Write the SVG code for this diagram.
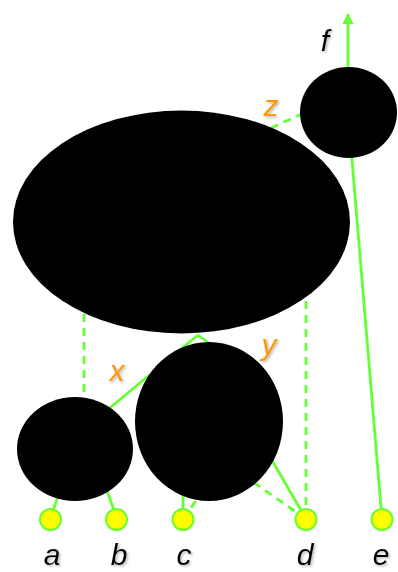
<svg xmlns="http://www.w3.org/2000/svg" width="398" height="572" viewBox="0 0 398 572">
<style>
.e{stroke:#66ff33;stroke-width:2.8;fill:none}
.d{stroke-dasharray:8 6}
.n{fill:#000}
.leaf{fill:#ffff00;stroke:#66ff33;stroke-width:2}
.t{font-family:"Liberation Sans",Arial,sans-serif;font-style:italic;font-size:30px;text-anchor:middle;filter:url(#sh)}
.lbl{fill:#000}
.o{fill:#ff9900}
</style>
<defs>
<filter id="sh" x="-30%" y="-30%" width="160%" height="160%">
<feDropShadow dx="1.5" dy="1.5" stdDeviation="0.8" flood-color="#888" flood-opacity="0.6"/>
</filter>
<marker id="ah" viewBox="0 0 10 10" refX="9" refY="5" markerWidth="4" markerHeight="4.5" orient="auto" markerUnits="strokeWidth">
<path d="M0,0 L10,5 L0,10 z" fill="#66ff33"/>
</marker>
</defs>
<g id="connectors">
<line class="e" x1="50" y1="519" x2="62" y2="485"/>
<line class="e" x1="117" y1="519" x2="104" y2="482"/>
<line class="e" x1="183" y1="519" x2="183" y2="488"/>
<line class="e d" x1="183" y1="519" x2="205" y2="488"/>
<line class="e" x1="306" y1="519" x2="262" y2="443"/>
<line class="e d" x1="306" y1="519" x2="243" y2="475"/>
<line class="e d" x1="306" y1="519" x2="306" y2="292"/>
<line class="e" x1="382" y1="519" x2="348" y2="112"/>
<line class="e" x1="348" y1="67" x2="348" y2="14" marker-end="url(#ah)"/>
<line class="e d" x1="258" y1="134" x2="306" y2="112"/>
<line class="e" x1="100" y1="416" x2="198" y2="335"/>
<line class="e" x1="198" y1="335" x2="214" y2="347"/>
<line class="e d" x1="84" y1="300" x2="84" y2="402"/>
</g>
<g id="root"><ellipse class="n" cx="181.5" cy="222" rx="168.5" ry="111.5"/></g>
<g id="top"><ellipse class="n" cx="348.5" cy="112.5" rx="48.5" ry="45.5"/></g>
<g id="left"><ellipse class="n" cx="75" cy="449" rx="58" ry="52"/></g>
<g id="mid"><ellipse class="n" cx="209" cy="421.5" rx="74" ry="79.5"/></g>
<g id="leaf-a"><circle class="leaf" cx="50.5" cy="519.5" r="10.5"/><text class="t lbl" x="52" y="565">a</text></g>
<g id="leaf-b"><circle class="leaf" cx="116.5" cy="519.5" r="10.5"/><text class="t lbl" x="119" y="565">b</text></g>
<g id="leaf-c"><circle class="leaf" cx="183" cy="519.5" r="10.5"/><text class="t lbl" x="184" y="565">c</text></g>
<g id="leaf-d"><circle class="leaf" cx="306" cy="519.5" r="10.5"/><text class="t lbl" x="305" y="565">d</text></g>
<g id="leaf-e"><circle class="leaf" cx="382" cy="519.5" r="10.5"/><text class="t lbl" x="381" y="565">e</text></g>
<g id="labels">
<text class="t lbl" x="325" y="51">f</text>
<text class="t o" x="271" y="116">z</text>
<text class="t o" x="117" y="381">x</text>
<text class="t o" x="269" y="355">y</text>
</g>
</svg>
